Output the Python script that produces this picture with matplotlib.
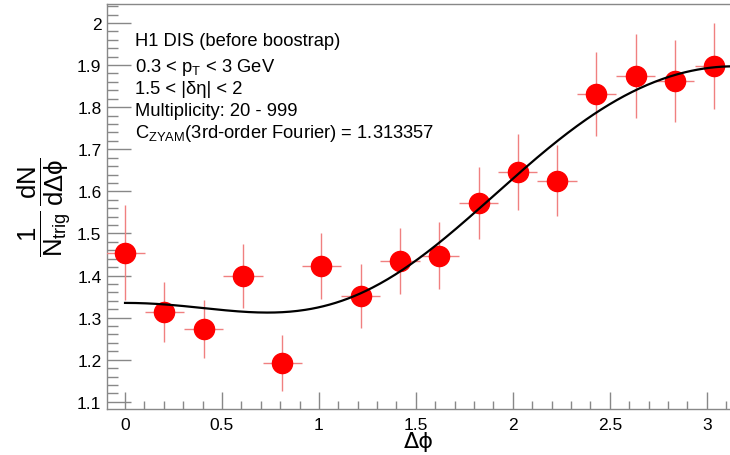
import numpy as np
import matplotlib
matplotlib.use("Agg")
import matplotlib.pyplot as plt
from matplotlib.ticker import MultipleLocator

plt.rcParams['font.family'] = ['Liberation Sans', 'DejaVu Sans']
plt.rcParams['mathtext.fontset'] = 'custom'
plt.rcParams['mathtext.rm'] = 'Liberation Sans'
plt.rcParams['mathtext.it'] = 'Liberation Sans:italic'
plt.rcParams['mathtext.bf'] = 'Liberation Sans:bold'

# Data
dphi = [0.0, 0.203, 0.405, 0.608, 0.81, 1.013, 1.215, 1.418,
        1.62, 1.823, 2.025, 2.228, 2.43, 2.633, 2.835, 3.038]
yield_vals = [1.454, 1.313, 1.273, 1.399, 1.192, 1.423, 1.352, 1.435,
              1.447, 1.572, 1.646, 1.625, 1.831, 1.874, 1.862, 1.898]
yerr = [0.113, 0.072, 0.070, 0.077, 0.066, 0.078, 0.076, 0.079,
        0.080, 0.085, 0.090, 0.084, 0.099, 0.100, 0.097, 0.102]
xerr = [0.101] * 16

# 3rd-order Fourier fit coefficients (estimated from the drawn curve)
fourier = [1.538, -0.300, 0.078, 0.019]

text_lines = ["H1 DIS (before boostrap)",
              r"0.3 < $\mathrm{p}_{\mathrm{T}}$ < 3 GeV",
              "1.5 < |δη| < 2",
              "Multiplicity: 20 - 999",
              r"C$_{\mathrm{ZYAM}}$(3rd-order Fourier) = 1.313357"]

fig = plt.figure(figsize=(7.30, 4.56), dpi=100)
ax = fig.add_axes([107/730, 1-410/456, 1-107/730, (410-5)/456])

ax.errorbar(dphi, yield_vals, xerr=xerr, yerr=yerr, fmt='o', color='red',
            ecolor='#f08080', elinewidth=1.0, capsize=0, markersize=14.5,
            zorder=3)

xf = np.linspace(0, np.pi, 400)
yf = sum(c * np.cos(k * xf) for k, c in enumerate(fourier))
ax.plot(xf, yf, color='black', lw=1.6, zorder=4)

ax.set_xlim(-0.093, 3.12)
ax.set_ylim(1.083, 2.045)

ax.xaxis.set_minor_locator(MultipleLocator(0.1))
ax.yaxis.set_minor_locator(MultipleLocator(0.02))
ax.set_xticks([0, 0.5, 1, 1.5, 2, 2.5, 3])
ax.set_xticklabels(['0', '0.5', '1', '1.5', '2', '2.5', '3'])
ax.set_yticks([1.1, 1.2, 1.3, 1.4, 1.5, 1.6, 1.7, 1.8, 1.9, 2.0])
ax.set_yticklabels(['1.1', '1.2', '1.3', '1.4', '1.5', '1.6', '1.7', '1.8', '1.9', '2'])

ax.tick_params(axis='both', which='both', direction='in', colors='#888888',
               labelcolor='black', labelsize=12.5, top=False, right=False)
ax.tick_params(axis='y', which='major', length=17, width=1)
ax.tick_params(axis='y', which='minor', length=8, width=1)
ax.tick_params(axis='x', which='major', length=12, width=1)
ax.tick_params(axis='x', which='minor', length=6, width=1)
ax.tick_params(axis='x', pad=6)
ax.tick_params(axis='y', pad=4)

for s in ['left', 'bottom', 'top']:
    ax.spines[s].set_color('#888888')
    ax.spines[s].set_linewidth(1.0)
ax.spines['right'].set_visible(False)

ax.set_xlabel('Δϕ', fontsize=16, labelpad=-1, family=['DejaVu Sans'])
ax.set_ylabel(r'$\dfrac{1}{\mathrm{N_{trig}}}\,\dfrac{\mathrm{dN}}{\mathrm{d\Delta\phi}}$',
              fontsize=18.5, labelpad=3)

ys = [42, 68, 90, 111, 134]
for t, yp in zip(text_lines, ys):
    ax.text(135/730, 1 - yp/456, t, transform=fig.transFigure, fontsize=13.2,
            va='center', ha='left')

fig.savefig('out.png', dpi=100)
